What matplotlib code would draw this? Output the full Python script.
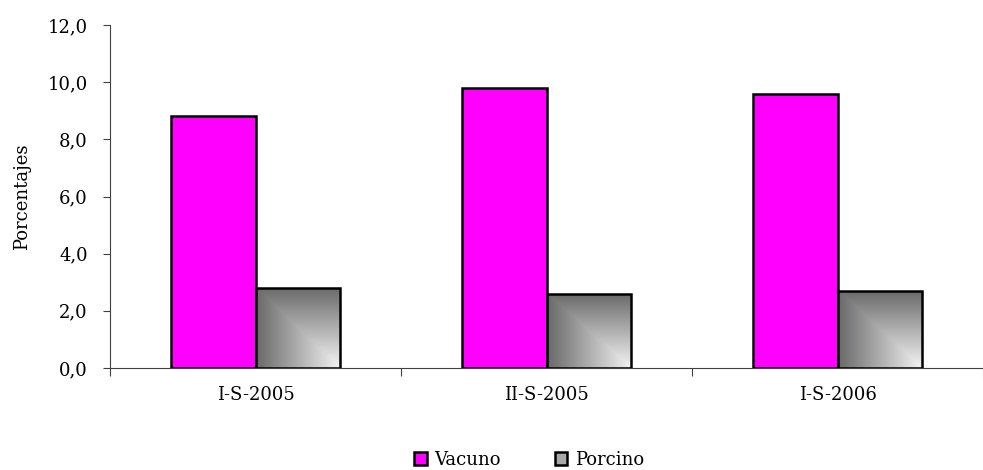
import numpy as np
import matplotlib
matplotlib.use('Agg')
import matplotlib.pyplot as plt
from matplotlib.colors import LinearSegmentedColormap
from matplotlib.patches import Patch

periodos = ['I-S-2005', 'II-S-2005', 'I-S-2006']
vacuno = [8.8, 9.8, 9.6]
porcino = [2.8, 2.6, 2.7]
yticks = [0.0, 2.0, 4.0, 6.0, 8.0, 10.0, 12.0]

plt.rcParams['font.family'] = ['DejaVu Serif']

fig = plt.figure(figsize=(9.83, 4.70), dpi=100)
W, H = 983, 470
ax = fig.add_axes([110 / W, (H - 368) / H, (W - 110) / W, (368 - 25) / H])

x = np.arange(len(periodos))
w = 0.29
ax.bar(x - w / 2, vacuno, w, color='#ff00ff', edgecolor='black', linewidth=1.8, zorder=3)
bars_p = ax.bar(x + w / 2, porcino, w, color='none', edgecolor='black', linewidth=1.8, zorder=4)

# gradiente de esquina (oscuro arriba-izquierda, claro abajo-derecha)
cmap = LinearSegmentedColormap.from_list('gris', ['#696969', '#f4f4f4'])
u = np.linspace(0, 1, 200)
U, V = np.meshgrid(u, u)
grad = np.minimum(U, V)
for b in bars_p:
    x0, y0 = b.get_x(), b.get_y()
    im = ax.imshow(grad, cmap=cmap, extent=(x0, x0 + b.get_width(), y0, y0 + b.get_height()),
                   origin='upper', aspect='auto', zorder=3.5)
    im.set_clip_path(b)

ax.set_xlim(-0.5, -0.5 + 873 / 295)
ax.set_ylim(0, 12)
ax.set_yticks(yticks)
ax.set_yticklabels([f'{v:.1f}'.replace('.', ',') for v in yticks], fontsize=13)
ax.set_xticks([-0.5, 0.5, 1.5, 2.5])
ax.set_xticklabels([])
ax.set_xticks(x, minor=True)
ax.set_xticklabels(periodos, minor=True, fontsize=13)
ax.tick_params(axis='x', which='minor', length=0, pad=13)
ax.tick_params(axis='x', which='major', length=6, color='#404040', direction='out')
ax.tick_params(axis='y', length=5, color='#404040', direction='out', pad=11)

for s in ['top', 'right']:
    ax.spines[s].set_visible(False)
ax.spines['left'].set_color('#404040')
ax.spines['bottom'].set_color('#404040')
ax.set_ylabel('Porcentajes', fontsize=13, labelpad=12)

handles = [Patch(facecolor='#ff00ff', edgecolor='black', linewidth=1.8),
           Patch(facecolor='#a8a8a8', edgecolor='black', linewidth=1.8)]
fig.legend(handles, ['Vacuno', 'Porcino'], loc='center', bbox_to_anchor=(529 / W, 1 - 460 / H),
           ncol=2, frameon=False, fontsize=13, handlelength=0.7, handleheight=0.7,
           handletextpad=0.4, columnspacing=3.0)

fig.savefig('out.png', dpi=100)
